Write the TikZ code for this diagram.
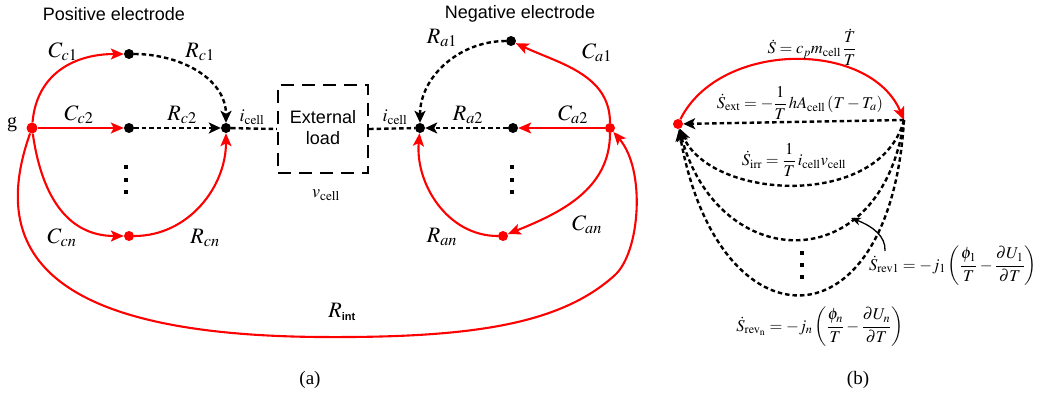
\documentclass[tikz,border=0pt]{standalone}
\usepackage{amsmath}
\usepackage{mathptmx}
\usepackage[no-math]{fontspec}
\setmainfont{Liberation Serif}
\setsansfont{Liberation Sans}
\usetikzlibrary{arrows.meta}
\tikzset{
  dotnode/.style={circle,fill=black,inner sep=0pt,minimum size=10pt},
  rdotnode/.style={dotnode,fill=red},
  redline/.style={draw=red,line width=2.1pt},
  redarrow/.style={redline,-{Stealth[length=13pt,width=11pt,inset=3pt]}},
  dashline/.style={draw=black,line width=2.4pt,dash pattern=on 4.5pt off 3pt},
  darrow/.style={dashline,-{Stealth[length=12pt,width=11pt,inset=3pt]}},
  boxstyle/.style={draw=black,line width=2.4pt,dash pattern=on 13pt off 8pt,minimum width=90pt,minimum height=88pt,inner sep=0pt},
  lab/.style={font=\fontsize{22}{24}\selectfont,inner sep=0pt},
  small/.style={font=\fontsize{18}{20}\selectfont,inner sep=0pt},
  sanslab/.style={font=\sffamily\fontsize{18}{21}\selectfont,inner sep=0pt,align=center},
  eqlab/.style={font=\fontsize{16.5}{18}\selectfont,inner sep=0pt},
  sqdot/.style={fill=black,inner sep=0pt,minimum size=4.5pt}
}
\begin{document}
\begin{tikzpicture}[x=1pt,y=-1pt]
\useasboundingbox[fill=white] (0,0) rectangle (1038,394);

% ---------------- (a) ----------------
\node[sanslab] (posel) at (114,14) {Positive electrode};
\node[sanslab] (negel) at (520,14) {Negative electrode};

\node[rdotnode,minimum size=11pt] (g) at (32,128) {};
\node[font=\fontsize{20}{22}\selectfont,inner sep=0pt] (glab) at (12,125) {g};
\node[dotnode] (c1) at (129,54) {};
\node[dotnode] (c2) at (129,128) {};
\node[rdotnode] (cn) at (129,236) {};
\node[dotnode] (jL) at (226,128) {};
\node[boxstyle] (box) at (323,129) {};
\node[sanslab] (boxtxt) at (323,128) {External\\load};
\node[dotnode] (jR) at (420,128) {};
\node[dotnode] (a1) at (511,41) {};
\node[dotnode] (a2) at (513,128) {};
\node[rdotnode] (an) at (503,236) {};
\node[rdotnode] (rn) at (610,128) {};

\foreach \i/\y in {1/167,2/180,3/192}{
  \node[sqdot] (dl\i) at (126,\y) {};
  \node[sqdot] (dr\i) at (512,\y) {};
}

% red connectors, positive side
\draw[redarrow] (g) to[out=85,in=180,looseness=1.1] (c1);
\draw[redarrow] (g) -- (c2);
\draw[redarrow] (g) to[out=-82,in=180,looseness=1.1] (cn);
\draw[redarrow] (cn) to[out=0,in=-90] (jL);
% dashed, positive side
\draw[darrow] (c1) to[out=0,in=90] (jL);
\draw[darrow] (c2) -- (jL);
\draw[dashline] (jL) -- (box.west);
\draw[dashline] (box.east) -- (jR);
% negative side
\draw[redarrow] (rn) to[out=90,in=-25] (a1);
\draw[redarrow] (rn) -- (a2);
\draw[redarrow] (rn) to[out=-90,in=22] (an);
\draw[redarrow] (an) to[out=180,in=-95] (jR);
\draw[darrow] (a1) to[out=180,in=90] (jR);
\draw[darrow] (a2) -- (jR);

% R_int loop
\coordinate (Rb) at (320,337);
\coordinate (Rc) at (615,275);
\draw[redarrow] (g) .. controls (-15,260) and (60,335) .. (Rb)
  .. controls (470,338) and (560,325) .. (Rc)
  .. controls (640,252) and (646,170) .. (rn);

% labels (a)
\node[lab] (lCc1) at (63,52) {$C_{c1}$};
\node[lab] (lRc1) at (200,52) {$R_{c1}$};
\node[lab] (lCc2) at (79,115) {$C_{c2}$};
\node[lab] (lRc2) at (182,115) {$R_{c2}$};
\node[lab] (lCcn) at (62,238) {$C_{cn}$};
\node[lab] (lRcn) at (205,238) {$R_{cn}$};
\node[small] (liL) at (252,117) {$i_{\mathrm{cell}}$};
\node[small] (liR) at (395,117) {$i_{\mathrm{cell}}$};
\node[small] (lv) at (326,195) {$v_{\mathrm{cell}}$};
\node[lab] (lRa1) at (442,38) {$R_{a1}$};
\node[lab] (lCa1) at (597,53) {$C_{a1}$};
\node[lab] (lRa2) at (468,115) {$R_{a2}$};
\node[lab] (lCa2) at (573,115) {$C_{a2}$};
\node[lab] (lCan) at (587,225) {$C_{an}$};
\node[lab] (lRan) at (442,237) {$R_{an}$};
\node[lab] (lRint) at (342,312) {$R_{\text{\sffamily\bfseries\fontsize{11}{12}\selectfont int}}$};
\node[font=\fontsize{19}{21}\selectfont,inner sep=0pt] (capa) at (310,380) {(a)};

% ---------------- (b) ----------------
\node[rdotnode] (L) at (678,124) {};
\coordinate (R) at (904,120);
\draw[redarrow] (L) .. controls (720,40) and (870,40) .. (R);
\draw[darrow] (R) -- (L);
\draw[darrow] (R) .. controls (880,210) and (710,200) .. (L);
\draw[darrow] (R) .. controls (882,280) and (718,275) .. (L);
\draw[darrow] (R) .. controls (890,352) and (718,350) .. (L);
\foreach \i/\y in {1/253,2/265,3/277}{
  \node[sqdot] (db\i) at (802,\y) {};
}

\node[eqlab] (eqS) at (812,47) {$\dot S = c_p m_{\mathrm{cell}}\,\dfrac{\dot T}{T}$};
\node[eqlab] (eqext) at (800,103) {$\dot S_{\mathrm{ext}} = -\dfrac{1}{T}\,hA_{\mathrm{cell}}\left(T-T_a\right)$};
\node[eqlab] (eqirr) at (794,160) {$\dot S_{\mathrm{irr}} = \dfrac{1}{T}\,i_{\mathrm{cell}}v_{\mathrm{cell}}$};
\node[eqlab] (eqrev1) at (953,266) {$\dot S_{\mathrm{rev1}} = -j_1\left(\dfrac{\phi_1}{T}-\dfrac{\partial U_1}{\partial T}\right)$};
\node[eqlab] (eqrevn) at (820,327) {$\dot S_{\mathrm{rev}_{\mathrm{n}}} = -j_n\left(\dfrac{\phi_n}{T}-\dfrac{\partial U_n}{\partial T}\right)$};

\coordinate (annTail) at (885,251);
\coordinate (annTip) at (851,218);
\draw[line width=1.3pt,-{Stealth[length=10pt,width=8pt]}] (annTail) .. controls (886,236) and (872,226) .. (annTip);

\node[font=\fontsize{19}{21}\selectfont,inner sep=0pt] (capb) at (858,380) {(b)};
\end{tikzpicture}
\end{document}
